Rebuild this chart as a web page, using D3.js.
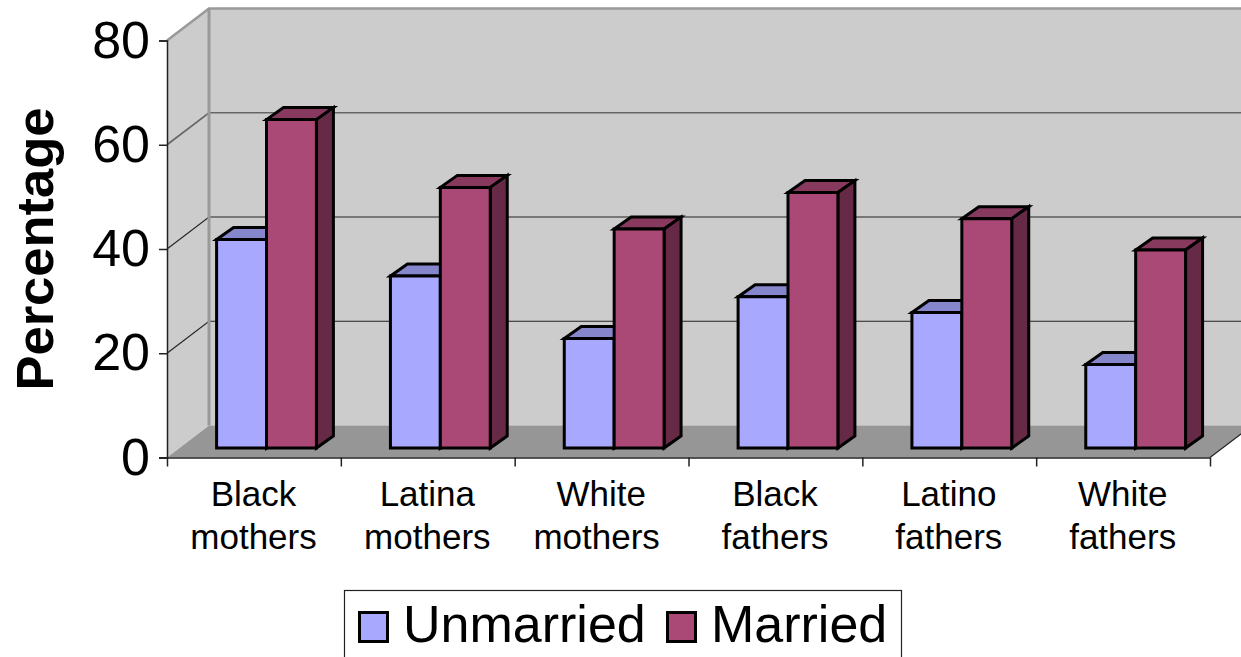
<!DOCTYPE html>
<html>
  <head>
    <title>Percentage by group</title>
    <script src="https://d3js.org/d3.v7.min.js"></script>
    <style>
      html, body { margin: 0; padding: 0; background: #fff; overflow: hidden; }
      svg { display: block; }
      text { font-family: "Liberation Sans", Arial, sans-serif; fill: #000; }
    </style>
  </head>
  <body>
    <svg width="1241" height="657"></svg>
    <script>
      const categories = [
        ["Black", "mothers"], ["Latina", "mothers"], ["White", "mothers"],
        ["Black", "fathers"], ["Latino", "fathers"], ["White", "fathers"]
      ];
      const seriesNames = ["Unmarried", "Married"];
      const unmarried = [40, 33, 21, 29, 26, 16];
      const married = [63, 50, 42, 49, 44, 38];
      const yTicks = [0, 20, 40, 60, 80];

      const front = ["#a8a8ff", "#aa4876"];
      const top_ = ["#8686cc", "#883a5e"];
      const side = ["#6a6aa0", "#662a46"];

      const svg = d3.select("svg");

      // front plane of the 3D box
      const y = d3.scaleLinear().domain([0, 80]).range([457.5, 40.5]);
      const x0 = d3.scaleBand().domain(d3.range(categories.length)).range([167, 1210]);
      const x1 = d3.scaleBand().domain([0, 1]).range([49.6, 149.4]);

      // depth of the box and of the bars
      const wallDx = 42, wallDy = -32;
      const barDx = 17, barDy = -12;
      const baseLift = 9.5;

      const poly = (pts, fill, stroke, sw) => svg.append("polygon")
        .attr("points", pts.map(p => p.join(",")).join(" "))
        .attr("fill", fill)
        .attr("stroke", stroke || "none")
        .attr("stroke-width", sw || 0)
        .attr("stroke-linejoin", "miter");

      const y0 = y(0), yMax = y(80);
      const xL = x0.range()[0], xR = x0.range()[1];

      // back wall, side wall, floor
      poly([[xL + wallDx, yMax + wallDy], [1300, yMax + wallDy], [1300, y0 + wallDy], [xL + wallDx, y0 + wallDy]], "#cccccc");
      poly([[xL, yMax], [xL + wallDx, yMax + wallDy], [xL + wallDx, y0 + wallDy], [xL, y0]], "#cccccc");
      poly([[xL, y0], [xL + wallDx, y0 + wallDy], [xR + wallDx, y0 + wallDy], [xR, y0]], "#969696");

      // gridlines
      yTicks.filter(d => d > 0 && d < 80).forEach(d => {
        svg.append("path")
          .attr("d", `M${xL},${y(d)}L${xL + wallDx},${y(d) + wallDy}L1241,${y(d) + wallDy}`)
          .attr("fill", "none")
          .attr("stroke", d === 60 ? "#666" : "#222")
          .attr("stroke-width", d === 60 ? 1.6 : 1.1);
      });

      // wall frame
      svg.append("path")
        .attr("d", `M${xL},${yMax}L${xL + wallDx},${yMax + wallDy}L1241,${yMax + wallDy}`)
        .attr("fill", "none").attr("stroke", "#999").attr("stroke-width", 2.5);
      svg.append("path")
        .attr("d", `M${xL + wallDx},${yMax + wallDy}V${y0 + wallDy}`)
        .attr("fill", "none").attr("stroke", "#999").attr("stroke-width", 3);

      // bars
      const drawBar = (i, s, v) => {
        const xa = x0(i) + x1(s), xb = xa + x1.bandwidth();
        const yb = y0 - baseLift, yt = y(v) - baseLift;
        poly([[xa, yt], [xa + barDx, yt + barDy], [xb + barDx, yt + barDy], [xb, yt]], top_[s], "#000", 3);
        poly([[xb, yt], [xb + barDx, yt + barDy], [xb + barDx, yb + barDy], [xb, yb]], side[s], "#000", 3);
        poly([[xa, yt], [xb, yt], [xb, yb], [xa, yb]], front[s], "#000", 3);
      };
      categories.forEach((c, i) => {
        drawBar(i, 0, unmarried[i]);
        drawBar(i, 1, married[i]);
      });

      // axes
      const yAxis = d3.axisLeft(y).tickValues(yTicks).tickSize(8).tickPadding(9);
      const yG = svg.append("g").attr("transform", `translate(${xL},0)`).call(yAxis);
      yG.selectAll("path, line").attr("stroke", "#222").attr("stroke-width", 1.5);
      yG.selectAll("text").style("font-size", "52px").attr("dy", "0.32em").attr("font-family", null);

      const xAxis = d3.axisBottom(d3.scaleLinear().domain([0, categories.length]).range([xL, xR]))
        .ticks(categories.length).tickSize(9).tickFormat("");
      const xG = svg.append("g").attr("transform", `translate(0,${y0})`).call(xAxis);
      xG.selectAll("path, line").attr("stroke", "#222").attr("stroke-width", 1.5);
      xG.select("path").attr("d", `M${xL - 8},0.5H${xR}`);

      // right edge of the floor
      svg.append("line")
        .attr("x1", xR).attr("y1", y0).attr("x2", xR + wallDx).attr("y2", y0 + wallDy)
        .attr("stroke", "#222").attr("stroke-width", 1.2);

      // category labels, the lower line of the third one sits a little left
      const catG = svg.selectAll(".cat").data(categories).enter().append("text")
        .attr("class", "cat")
        .attr("text-anchor", "middle")
        .style("font-size", "35px");
      catG.append("tspan")
        .attr("x", (d, i) => x0(i) + 86.5).attr("y", 506)
        .text(d => d[0]);
      catG.append("tspan")
        .attr("x", (d, i) => x0(i) + 86.5 - (i === 2 ? 4.5 : 0)).attr("y", 549)
        .text(d => d[1]);

      // y title
      svg.append("text")
        .attr("transform", "translate(53,249) rotate(-90)")
        .attr("text-anchor", "middle")
        .style("font-size", "52.5px")
        .style("font-weight", "bold")
        .text("Percentage");

      // legend, its lower edge falls outside the picture
      svg.append("rect")
        .attr("x", 344.5).attr("y", 590.5).attr("width", 557).attr("height", 90)
        .attr("fill", "#fff").attr("stroke", "#222").attr("stroke-width", 1.2);
      const legendX = [[359.5, 403], [667.5, 711]];
      seriesNames.forEach((name, s) => {
        svg.append("rect")
          .attr("x", legendX[s][0]).attr("y", 612.5).attr("width", 28).attr("height", 29)
          .attr("fill", front[s]).attr("stroke", "#000").attr("stroke-width", 3);
        svg.append("text")
          .attr("x", legendX[s][1]).attr("y", 642)
          .style("font-size", "52px")
          .text(name);
      });
    </script>
  </body>
</html>
